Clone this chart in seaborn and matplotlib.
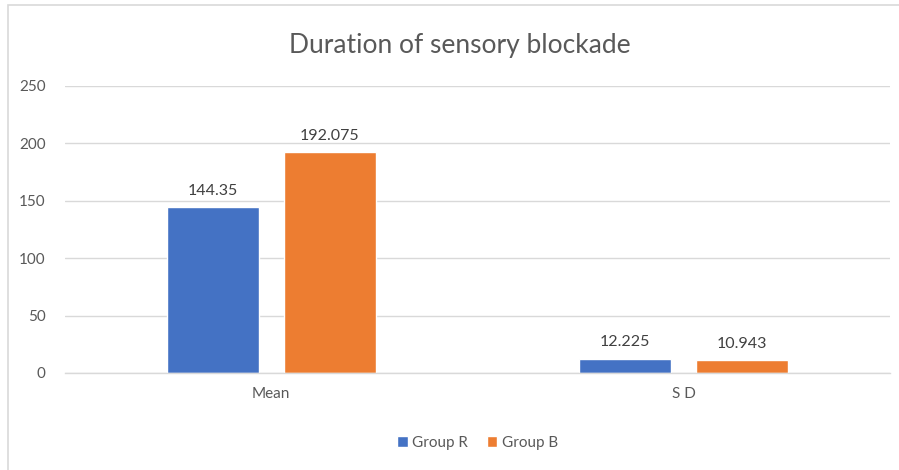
import matplotlib
matplotlib.use("Agg")
import matplotlib.pyplot as plt
from matplotlib.patches import Rectangle
import seaborn as sns
import pandas as pd

# Values
categories = ["Mean", "S D"]
groups = ["Group R", "Group B"]
group_r = [144.35, 12.225]
group_b = [192.075, 10.943]
value_labels_r = ["144.35", "12.225"]
value_labels_b = ["192.075", "10.943"]
y_ticks = [0, 50, 100, 150, 200, 250]

df = pd.DataFrame({
    "stat": categories * 2,
    "group": [groups[0]] * len(categories) + [groups[1]] * len(categories),
    "value": group_r + group_b,
})

sns.set_theme(style="white")
plt.rcParams["font.family"] = ["Lato", "DejaVu Sans"]

W, H = 899, 470
fig = plt.figure(figsize=(W / 100, H / 100), dpi=100)
fig.patch.set_facecolor("white")

# light chart-area frame (top and left edges visible)
fig.add_artist(Rectangle((8 / W, -0.05), 1.2, (H - 5) / H + 0.05,
                         transform=fig.transFigure, fill=False,
                         edgecolor="#d9d9d9", linewidth=1.2))

ax = fig.add_axes([65 / W, 97 / H, (890 - 65) / W, (373 - 86) / H])

palette = {"Group R": "#4472C4", "Group B": "#ED7D31"}
sns.barplot(data=df, x="stat", y="value", hue="group", hue_order=groups,
            order=categories, palette=palette, width=0.567, gap=0.215,
            saturation=1, ax=ax, legend=True)

ax.set_ylim(0, 250)
ax.set_xlim(-0.5, 1.5)
ax.set_yticks(y_ticks)
ax.set_yticklabels([str(t) for t in y_ticks])
ax.yaxis.grid(True, color="#d9d9d9", linewidth=1)
ax.set_axisbelow(True)
for s in ["top", "right", "left"]:
    ax.spines[s].set_visible(False)
ax.spines["bottom"].set_color("#d9d9d9")
ax.spines["bottom"].set_linewidth(1)
ax.tick_params(axis="both", length=0, colors="#595959", labelsize=11)
ax.tick_params(axis="y", pad=14)
ax.tick_params(axis="x", pad=10)
ax.set_xlabel("")
ax.set_ylabel("")

# value labels above each bar
labels_by_group = [value_labels_r, value_labels_b]
for container, labs in zip(ax.containers, labels_by_group):
    ax.bar_label(container, labels=labs, padding=7, fontsize=11.5,
                 color="#404040")

# legend at bottom centre
leg = ax.legend(loc="upper center", bbox_to_anchor=(0.5, -0.17), ncol=2,
                frameon=False, fontsize=11, handlelength=0.7,
                handleheight=0.7, handletextpad=0.3, columnspacing=1.2)
for t in leg.get_texts():
    t.set_color("#595959")

fig.text(460 / W, 1 - 45 / H, "Duration of sensory blockade",
         ha="center", va="center", fontsize=19, color="#595959")

fig.savefig("out.png", dpi=100, facecolor="white")
